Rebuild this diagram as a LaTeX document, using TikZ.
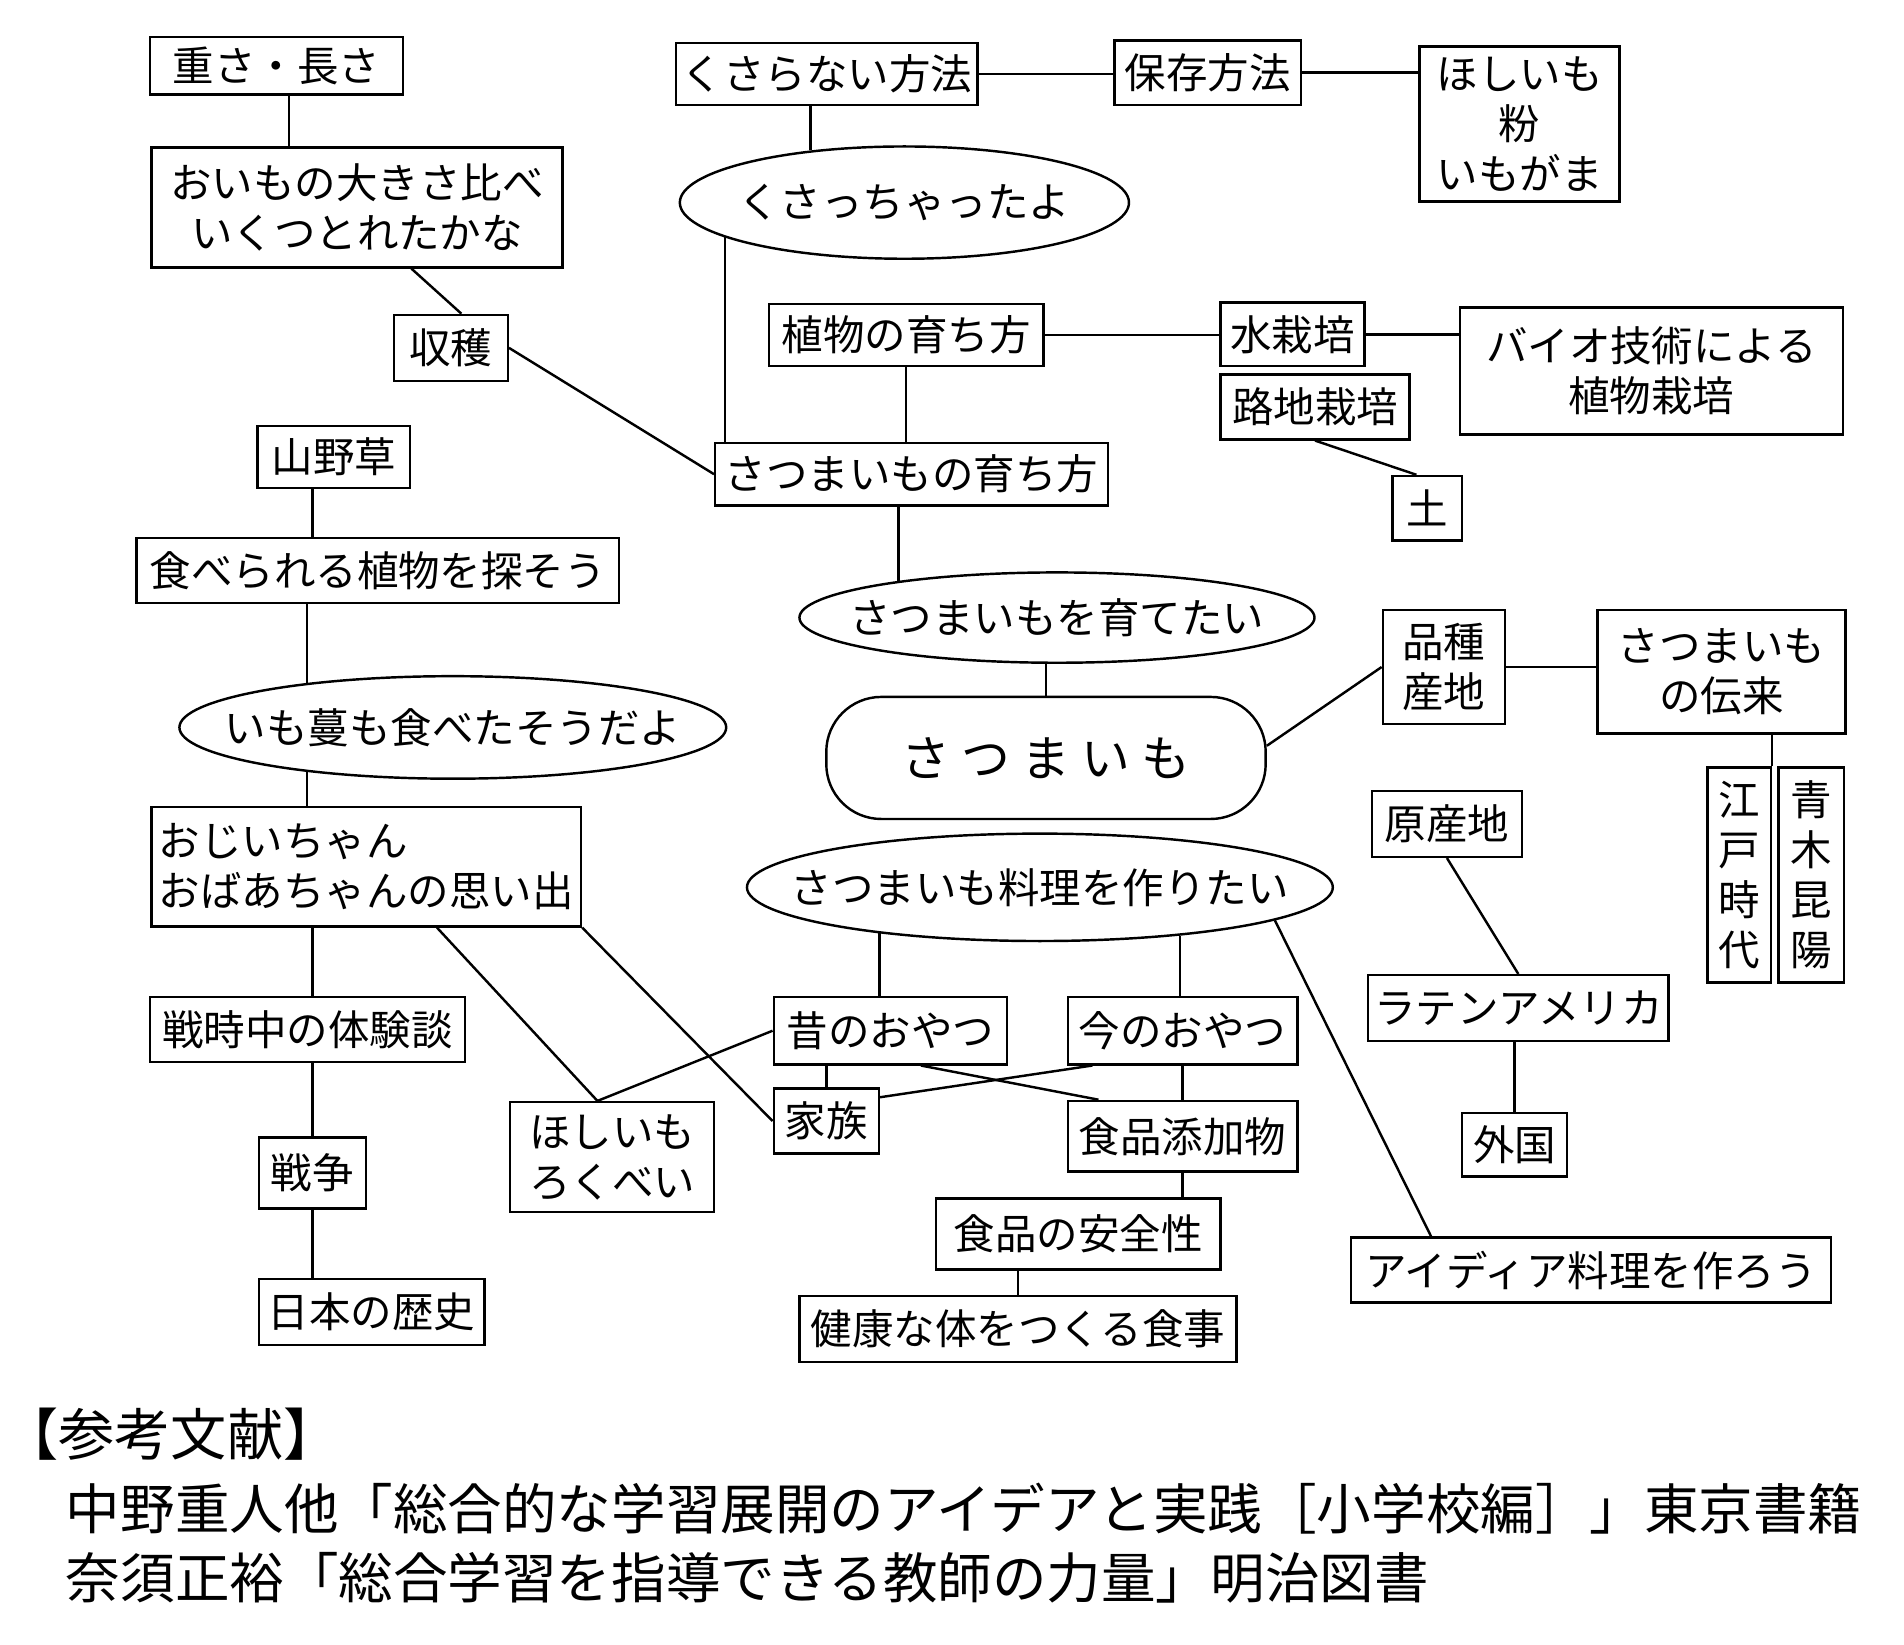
\documentclass[tikz,border=0pt]{standalone}
\usepackage{fontspec}
\setmainfont{Noto Sans CJK JP}
\usepackage{tikz}
\usetikzlibrary{shapes.geometric}

\begin{document}
\begin{tikzpicture}[x=1pt, y=-1pt, line width=2pt,
    box/.style={draw, inner sep=0pt, align=center, font=\fontsize{34}{41}\selectfont},
    oval/.style={draw, ellipse, inner sep=0pt, font=\fontsize{34}{41}\selectfont},
    ref/.style={anchor=west, inner sep=0pt, font=\fontsize{44.7}{45}\selectfont}]
\useasboundingbox (0,0) rectangle (1560,1347);

\node[box, minimum width=207pt, minimum height=47pt] (omosa) at (226.5,54) {重さ・長さ};
\node[box, minimum width=337pt, minimum height=98pt] (oimo) at (292.5,170) {おいもの大きさ比べ\\いくつとれたかな};
\node[box, minimum width=93pt, minimum height=54pt] (shukaku) at (369.5,285) {収穫};
\node[box, minimum width=247pt, minimum height=51pt] (kusaru) at (677.5,60.5) {くさらない方法};
\node[box, minimum width=153pt, minimum height=53pt] (hozon) at (989.5,59.5) {保存方法};
\node[box, minimum width=164pt, minimum height=127pt] (hoshi) at (1245,101.5) {ほしいも\\粉\\いもがま};
\node[oval, minimum width=368pt, minimum height=92pt] (kusatta) at (741,166) {\makebox[0pt]{くさっちゃったよ}};
\node[box, minimum width=225pt, minimum height=51pt] (shokubutsu) at (742.5,274.5) {植物の育ち方};
\node[box, minimum width=118pt, minimum height=52pt] (mizu) at (1059,274) {水栽培};
\node[box, minimum width=314pt, minimum height=104pt] (bio) at (1353,304) {バイオ技術による\\植物栽培};
\node[box, minimum width=155pt, minimum height=53pt] (roji) at (1077.5,333.5) {路地栽培};
\node[box, minimum width=57pt, minimum height=53pt] (tsuchi) at (1169.5,416.5) {土};
\node[box, minimum width=125pt, minimum height=51pt] (sanya) at (273.5,374.5) {山野草};
\node[box, minimum width=322pt, minimum height=51pt] (sodachi) at (747,388.5) {さつまいもの育ち方};
\node[box, minimum width=395pt, minimum height=53pt] (taberu) at (309.5,467.5) {食べられる植物を探そう};
\node[oval, minimum width=422pt, minimum height=74pt] (sodatetai) at (866,506) {\makebox[0pt]{さつまいもを育てたい}};
\node[box, minimum width=100pt, minimum height=93pt] (hinshu) at (1183,546.5) {品種\\産地};
\node[box, minimum width=203pt, minimum height=101pt] (denrai) at (1410.5,550.5) {さつまいも\\の伝来};
\node[oval, minimum width=448pt, minimum height=84pt] (imozuru) at (371,596) {\makebox[0pt]{いも蔓も食べたそうだよ}};
\node[box, rounded corners=45pt, minimum width=360pt, minimum height=100pt, font=\fontsize{40}{48}\selectfont] (imo) at (857,621) {さ\kern9pt つ\kern9pt ま\kern9pt い\kern9pt も};
\node[box, minimum width=123pt, minimum height=54pt] (gensan) at (1185.5,675) {原産地};
\node[box, minimum width=52pt, minimum height=176pt] (edo) at (1425,717) {江\\戸\\時\\代};
\node[box, minimum width=54pt, minimum height=176pt] (aoki) at (1484,717) {青\\木\\昆\\陽};
\node[box, align=left, minimum width=352pt, minimum height=98pt] (ojii) at (300,710) {おじいちゃん\\おばあちゃんの思い出};
\node[oval, minimum width=480pt, minimum height=88pt] (ryouri) at (852,727) {\makebox[0pt]{さつまいも料理を作りたい}};
\node[box, minimum width=246pt, minimum height=54pt] (latin) at (1244,826) {ラテンアメリカ};
\node[box, minimum width=258pt, minimum height=53pt] (senji) at (252,843.5) {戦時中の体験談};
\node[box, minimum width=191pt, minimum height=55pt] (mukashi) at (729.5,844.5) {昔のおやつ};
\node[box, minimum width=188pt, minimum height=55pt] (ima) at (969,844.5) {今のおやつ};
\node[box, minimum width=86pt, minimum height=53pt] (kazoku) at (677,918.5) {家族};
\node[box, minimum width=188pt, minimum height=58pt] (tenka) at (969,931) {食品添加物};
\node[box, minimum width=86pt, minimum height=52pt] (gaikoku) at (1241,938) {外国};
\node[box, minimum width=167pt, minimum height=90pt] (hoshi2) at (501.5,948) {ほしいも\\ろくべい};
\node[box, minimum width=88pt, minimum height=58pt] (sensou) at (256,961) {戦争};
\node[box, minimum width=233pt, minimum height=58pt] (anzen) at (883.5,1011) {食品の安全性};
\node[box, minimum width=393pt, minimum height=53pt] (idea) at (1303.5,1040.5) {アイディア料理を作ろう};
\node[box, minimum width=185pt, minimum height=54pt] (nihon) at (304.5,1075) {日本の歴史};
\node[box, minimum width=358pt, minimum height=54pt] (kenkou) at (834,1089) {健康な体をつくる食事};

\draw ([xshift=10.5pt]omosa.south) -- ([xshift=10.5pt]omosa.south |- oimo.north);
\draw ([xshift=44.5pt]oimo.south) -- ([xshift=8.5pt]shukaku.north);
\draw (shukaku.east) -- (sodachi.west);
\draw (kusatta.151) -- (kusatta.151 |- kusaru.south);
\draw (kusaru.east) -- (kusaru.east -| hozon.west);
\draw (hozon.east) -- (hozon.east -| hoshi.west);
\draw (kusatta.191) -- (kusatta.191 |- sodachi.north);
\draw (shokubutsu.south) -- (shokubutsu.south |- sodachi.north);
\draw (shokubutsu.east) -- (shokubutsu.east -| mizu.west);
\draw (mizu.east) -- (mizu.east -| bio.west);
\draw (roji.south) -- ([xshift=-9pt]tsuchi.north);
\draw (sanya.south -| sensou) -- (taberu.north -| sensou);
\draw (imozuru.163 |- taberu.south) -- (imozuru.163);
\draw (imozuru.197) -- (imozuru.197 |- ojii.north);
\draw (ojii.south -| sensou) -- (senji.north -| sensou);
\draw (senji.south -| sensou) -- (sensou.north);
\draw (sensou.south) -- (sensou.south |- nihon.north);
\draw ([xshift=58pt]ojii.south) -- ([xshift=-12pt]hoshi2.north);
\draw (ojii.south east) -- (kazoku.west);
\draw (mukashi.west) -- ([xshift=-12pt]hoshi2.north);
\draw (sodachi.south -| sodatetai.167) -- (sodatetai.167);
\draw (sodatetai.south -| imo.north) -- (imo.north);
\draw ([yshift=10pt]imo.east) -- (hinshu.west);
\draw (hinshu.east) -- (hinshu.east -| denrai.west);
\draw (edo.north east |- denrai.south) -- (edo.north east);
\draw (gensan.south) -- (latin.north);
\draw (latin.south -| gaikoku.north) -- (gaikoku.north);
\draw (ryouri.196) -- (ryouri.196 |- mukashi.north);
\draw (ryouri.341) -- (ryouri.341 |- ima.north);
\draw (ryouri.352) -- ([xshift=-131pt]idea.north);
\draw (kazoku.north |- mukashi.south) -- (kazoku.north);
\draw (ima.south) -- (tenka.north);
\draw ([xshift=25pt]mukashi.south) -- ([xshift=-69pt]tenka.north);
\draw ([yshift=-8pt]kazoku.north east) -- ([xshift=-74pt]ima.south);
\draw (tenka.south) -- (tenka.south |- anzen.north);
\draw (kenkou.north |- anzen.south) -- (kenkou.north);

\node[ref, font=\fontsize{46}{46}\selectfont] (sanko) at (1,1175) {【参考文献】};
\node[ref] (bunken1) at (53,1236) {中野重人他「総合的な学習展開のアイデアと実践［小学校編］」東京書籍};
\node[ref] (bunken2) at (53,1293) {奈須正裕「総合学習を指導できる教師の力量」明治図書};
\end{tikzpicture}
\end{document}
